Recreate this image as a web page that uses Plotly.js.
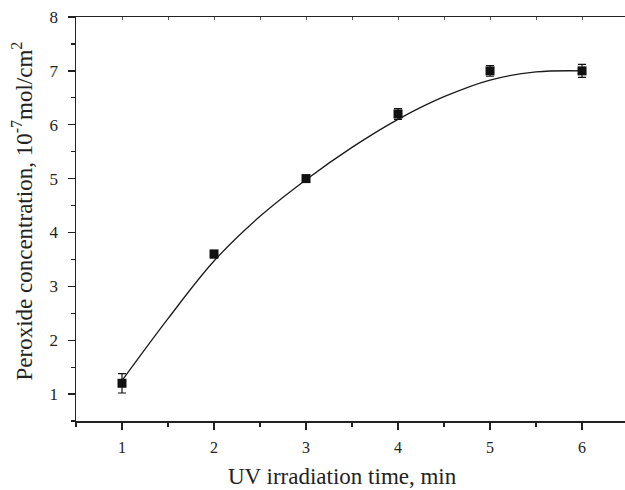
<!DOCTYPE html>
<html>
<head>
<meta charset="utf-8">
<script src="https://cdn.plot.ly/plotly-3.0.1.min.js"></script>
<style>html,body{margin:0;padding:0;background:#fff;}#chart{width:625px;height:490px;}</style>
</head>
<body>
<div id="chart"></div>
<script>
// Measured data points
const timeMin = [1, 2, 3, 4, 5, 6];
const peroxide = [1.2, 3.6, 5.0, 6.2, 7.0, 7.0];
const peroxideErr = [0.18, 0.07, 0.06, 0.10, 0.10, 0.12];

// Fitted curve
const fitX = [1, 1.5, 2, 2.5, 3, 3.5, 4, 4.5, 5, 5.5, 6];
const fitY = [1.25, 2.40, 3.47, 4.30, 4.98, 5.58, 6.10, 6.52, 6.83, 6.98, 7.0];

const xTickVals = [1, 2, 3, 4, 5, 6];
const yTickVals = [1, 2, 3, 4, 5, 6, 7, 8];

const xTitle = 'UV irradiation time, min';
const yTitle = 'Peroxide concentration, 10<sup>-7</sup>mol/cm<sup>2</sup>';

const serif = '"Liberation Serif", "Times New Roman", serif';

const traces = [
  {
    x: fitX, y: fitY, type: 'scatter', mode: 'lines',
    line: {color: '#1a1a1a', width: 1.3, shape: 'spline', smoothing: 1},
    hoverinfo: 'skip', showlegend: false
  },
  {
    x: timeMin, y: peroxide, type: 'scatter', mode: 'markers',
    marker: {symbol: 'square', size: 9, color: '#111'},
    error_y: {type: 'data', array: peroxideErr, visible: true, color: '#111', thickness: 1.2, width: 4},
    showlegend: false
  },
  {
    // carrier for the top (mirrored) axis
    x: timeMin, y: peroxide, xaxis: 'x2', type: 'scatter', mode: 'markers',
    marker: {opacity: 0}, hoverinfo: 'skip', showlegend: false
  }
];

const layout = {
  width: 625, height: 490,
  margin: {l: 76, r: 0, t: 17, b: 69},
  paper_bgcolor: '#fff', plot_bgcolor: '#fff',
  showlegend: false,
  xaxis: {
    range: [0.5, 6.467], tickvals: xTickVals,
    showgrid: false, zeroline: false,
    showline: true, linecolor: '#222', linewidth: 1.5,
    ticks: 'outside', ticklen: 7, tickwidth: 1.3, tickcolor: '#222',
    tickfont: {family: serif, size: 16, color: '#222'},
    ticklabelstandoff: 4,
    minor: {ticks: 'outside', ticklen: 4, tickwidth: 1.2, tickcolor: '#222', dtick: 0.5}
  },
  xaxis2: {
    overlaying: 'x', side: 'top', matches: 'x', range: [0.5, 6.467],
    tickvals: xTickVals, showticklabels: false,
    showgrid: false, zeroline: false,
    showline: true, linecolor: '#222', linewidth: 1.5,
    ticks: 'inside', ticklen: 3, tickwidth: 1, tickcolor: '#555',
    minor: {ticks: 'inside', ticklen: 3, tickwidth: 1, tickcolor: '#555', dtick: 0.5}
  },
  yaxis: {
    range: [0.5, 8], tickvals: yTickVals,
    showgrid: false, zeroline: false,
    showline: true, linecolor: '#222', linewidth: 1.5,
    ticks: 'outside', ticklen: 7, tickwidth: 1.3, tickcolor: '#222',
    tickfont: {family: serif, size: 17, color: '#222'},
    ticklabelstandoff: 6,
    minor: {ticks: 'outside', ticklen: 4, tickwidth: 1.2, tickcolor: '#222', dtick: 0.5}
  },
  annotations: [
    {
      text: xTitle, xref: 'paper', yref: 'paper',
      x: 0.4854, y: -0.137, xanchor: 'center', yanchor: 'middle',
      showarrow: false, font: {family: serif, size: 23, color: '#222'}
    },
    {
      text: yTitle, xref: 'paper', yref: 'paper', textangle: -90,
      x: -0.098, y: 0.519, xanchor: 'center', yanchor: 'middle',
      showarrow: false, font: {family: serif, size: 23, color: '#222'}
    }
  ]
};

Plotly.newPlot('chart', traces, layout, {displayModeBar: false, staticPlot: true});
</script>
</body>
</html>
